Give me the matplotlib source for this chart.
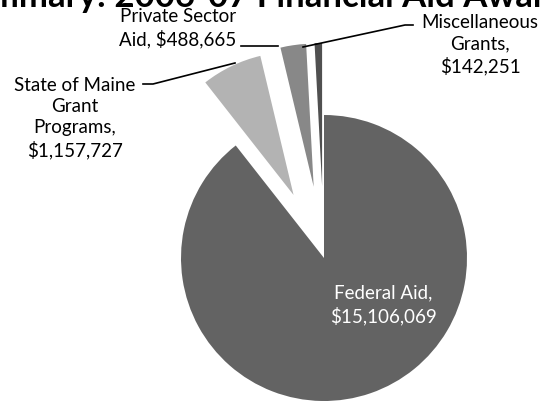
import matplotlib.pyplot as plt

# data
labels = ['Federal Aid', 'State of Maine\nGrant\nPrograms', 'Private Sector\nAid', 'Miscellaneous\nGrants']
amounts = [15106069, 1157727, 488665, 142251]
colors = ['#636363', '#b3b3b3', '#888888', '#505050']
explode = [0, 70, 72, 72]   # pie explode is in data units (pixels here)

title = 'Summary: 2006-07 Financial Aid Awards'

plt.rcParams['font.family'] = ['Lato', 'DejaVu Sans']

fig = plt.figure(figsize=(5.4, 4.04), dpi=100)
ax = fig.add_axes([0, 0, 1, 1])

# pie in pixel space: centre (324, 146) with y pointing up
ax.pie(amounts, colors=colors, explode=explode, startangle=90, counterclock=False,
       center=(324, 146), radius=143, frame=True)
ax.set_xlim(0, 540)
ax.set_ylim(0, 404)
ax.set_aspect('equal')
ax.axis('off')


def money(v):
    return '${:,}'.format(v)


fs = 13.5
# Federal label inside the slice
ax.text(383, 404 - 305, 'Federal Aid,\n' + money(amounts[0]), ha='center', va='center',
        color='white', fontsize=fs, linespacing=1.3)

# State of Maine label
ax.text(75, 404 - 118, 'State of Maine\nGrant\nPrograms,\n' + money(amounts[1]),
        ha='center', va='center', fontsize=fs, linespacing=1.3)
ax.plot([143, 153, 235], [404 - 84, 404 - 84, 404 - 63], color='black', lw=1.2)

# Private sector label
ax.text(178, 404 - 28, 'Private Sector\nAid, ' + money(amounts[2]),
        ha='center', va='center', fontsize=fs, linespacing=1.3)
ax.plot([241, 278], [404 - 46, 404 - 46], color='black', lw=1.2)

# Miscellaneous label
ax.text(480, 404 - 45, 'Miscellaneous\nGrants,\n' + money(amounts[3]),
        ha='center', va='center', fontsize=fs, linespacing=1.3)
ax.plot([303, 405, 413], [404 - 47, 404 - 25, 404 - 25], color='black', lw=1.2)

# title, mostly cut off at the top edge
fig.text(-0.09, 1 - 7 / 404, title, ha='left', va='baseline', fontsize=25, fontweight='bold')

fig.savefig('out.png', dpi=100)
